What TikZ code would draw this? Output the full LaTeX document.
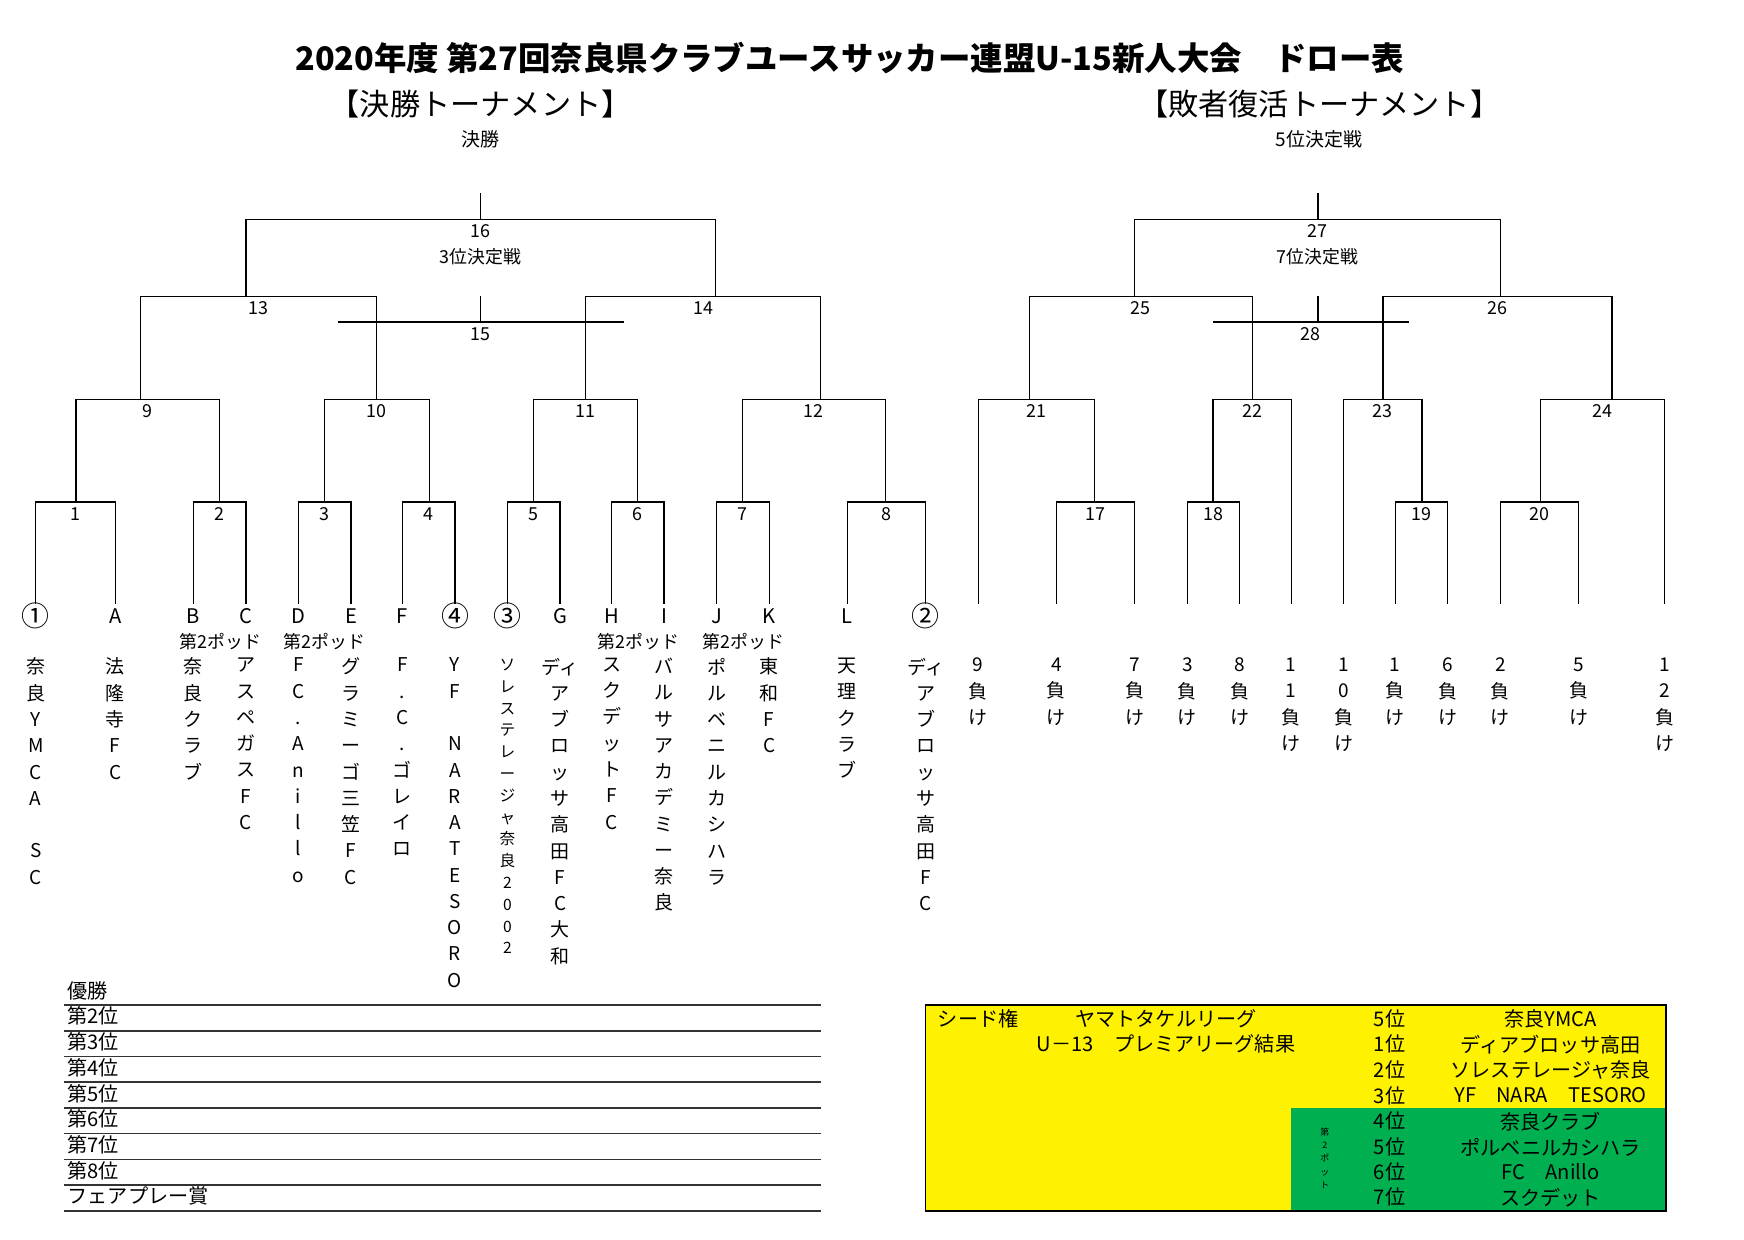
\documentclass[tikz,border=0pt]{standalone}
\usepackage{fontspec}
\setmainfont{Noto Sans CJK JP}
\usetikzlibrary{positioning}
\definecolor{potgreen}{RGB}{0,176,80}
\tikzstyle{num}=[font=\fontsize{16}{16}\selectfont, inner sep=0pt]
\tikzstyle{leaf}=[font=\fontsize{18}{18}\selectfont, inner sep=0pt]
\tikzstyle{seedleaf}=[leaf, font=\fontsize{25}{25}\selectfont]
\tikzstyle{pot}=[font=\fontsize{16}{16}\selectfont, inner sep=0pt]
\tikzstyle{vname}=[anchor=north, align=center, inner sep=0pt, font=\fontsize{17}{23.5}\selectfont]
\tikzstyle{vsmall}=[vname, font=\fontsize{14}{19.5}\selectfont]
\tikzstyle{rank}=[anchor=west, inner sep=0pt, font=\fontsize{18}{18}\selectfont]
\tikzstyle{cell}=[inner sep=0pt, font=\fontsize{18}{18}\selectfont]
% bracket: name, label, left x, right x, y, left bottom, right bottom
\newcommand\match[7]{%
  \draw (#3,#6) -- (#3,#5) -- (#4,#5) -- (#4,#7);
  \node[num] (#1) at ({(#3+#4)/2},#5+11) {#2};}
\def\leafy{540}

\begin{document}
\begin{tikzpicture}[x=1pt,y=-1pt,line width=1.1pt]
	\useasboundingbox (0,0) rectangle (1560,1109);
	% Define the titles
	\node[font=\fontsize{29}{29}\selectfont\bfseries] (title) at (760,52) {2020年度 第27回奈良県クラブユースサッカー連盟U-15新人大会　ドロー表};
	\node[font=\fontsize{27}{27}\selectfont] (main_t) at (430,93) {【決勝トーナメント】};
	\node[font=\fontsize{27}{27}\selectfont] (sub_t) at (1180,93) {【敗者復活トーナメント】};
	\node[num, font=\fontsize{17}{17}\selectfont] (final_t) at (430,125) {決勝};
	\node[num, font=\fontsize{17}{17}\selectfont] (fifth_t) at (1180,125) {5位決定戦};

	% Main tournament
	\draw (430,173) -- (430,196);
	\match{m16}{16}{220}{640}{196}{265}{265}
	\node[num, below=8pt of m16] (third_t) {3位決定戦};
	\match{m13}{13}{126}{337}{265}{357}{357}
	\match{m14}{14}{524}{734}{265}{357}{357}
	\draw (430,265) -- (430,288);
	\match{m15}{15}{302}{558}{288}{288}{288}
	\match{m9}{9}{68}{196}{357}{449}{449}
	\match{m10}{10}{290}{384}{357}{449}{449}
	\match{m11}{11}{477}{570}{357}{449}{449}
	\match{m12}{12}{664}{792}{357}{449}{449}
	\match{m1}{1}{32}{103}{449}{\leafy}{\leafy}
	\match{m2}{2}{173}{220}{449}{\leafy}{\leafy}
	\match{m3}{3}{267}{314}{449}{\leafy}{\leafy}
	\match{m4}{4}{360}{407}{449}{\leafy}{\leafy}
	\match{m5}{5}{454}{501}{449}{\leafy}{\leafy}
	\match{m6}{6}{547}{594}{449}{\leafy}{\leafy}
	\match{m7}{7}{641}{688}{449}{\leafy}{\leafy}
	\match{m8}{8}{758}{828}{449}{\leafy}{\leafy}

	% Losers tournament
	\draw (1179,173) -- (1179,196);
	\match{m27}{27}{1015}{1342}{196}{265}{265}
	\node[num, below=8pt of m27] (seventh_t) {7位決定戦};
	\match{m25}{25}{921}{1120}{265}{357}{357}
	\match{m26}{26}{1237}{1442}{265}{357}{357}
	\draw (1179,265) -- (1179,288);
	\match{m28}{28}{1085}{1260}{288}{288}{288}
	\match{m21}{21}{875}{979}{357}{\leafy}{449}
	\match{m22}{22}{1085}{1155}{357}{449}{\leafy}
	\match{m23}{23}{1202}{1272}{357}{\leafy}{449}
	\match{m24}{24}{1378}{1489}{357}{449}{\leafy}
	\match{m17}{17}{945}{1015}{449}{\leafy}{\leafy}
	\match{m18}{18}{1062}{1109}{449}{\leafy}{\leafy}
	\match{m19}{19}{1248}{1295}{449}{\leafy}{\leafy}
	\match{m20}{20}{1342}{1412}{449}{\leafy}{\leafy}

	% Define the entries
	\foreach \x/\t in {103/A,173/B,220/C,267/D,314/E,360/F,501/G,547/H,594/I,641/J,688/K,758/L}
		\node[leaf] (e\x) at (\x,551) {\t};
	\foreach \x/\t in {32/①,407/④,454/③,828/②}
		\node[seedleaf] (e\x) at (\x,551) {\t};
	\foreach \x in {197,290,571,665}
		\node[pot] (p\x) at (\x,574) {第2ポッド};
	\node[vname] (t1) at (32,588) {奈\\良\\Y\\M\\C\\A\\\strut\\S\\C};
	\node[vname] (t2) at (103,588) {法\\隆\\寺\\F\\C};
	\node[vname] (t3) at (173,588) {奈\\良\\ク\\ラ\\ブ};
	\node[vname] (t4) at (220,588) {ア\\ス\\ペ\\ガ\\ス\\F\\C};
	\node[vname] (t5) at (267,588) {F\\C\\.\\A\\n\\i\\l\\l\\o};
	\node[vname] (t6) at (314,588) {グ\\ラ\\ミ\\ー\\ゴ\\三\\笠\\F\\C};
	\node[vname] (t7) at (360,588) {F\\.\\C\\.\\ゴ\\レ\\イ\\ロ};
	\node[vname] (t8) at (407,588) {Y\\F\\\strut\\N\\A\\R\\A\\T\\E\\S\\O\\R\\O};
	\node[vsmall] (t9) at (454,589) {ソ\\レ\\ス\\テ\\レ\\ー\\ジ\\ャ\\奈\\良\\2\\0\\0\\2};
	\node[vname] (t10) at (501,588) {ディ\\ア\\ブ\\ロ\\ッ\\サ\\高\\田\\F\\C\\大\\和};
	\node[vname] (t11) at (547,588) {ス\\ク\\デ\\ッ\\ト\\F\\C};
	\node[vname] (t12) at (594,588) {バ\\ル\\サ\\ア\\カ\\デ\\ミ\\ー\\奈\\良};
	\node[vname] (t13) at (641,588) {ポ\\ル\\ベ\\ニ\\ル\\カ\\シ\\ハ\\ラ};
	\node[vname] (t14) at (688,588) {東\\和\\F\\C};
	\node[vname] (t15) at (758,588) {天\\理\\ク\\ラ\\ブ};
	\node[vname] (t16) at (828,588) {ディ\\ア\\ブ\\ロ\\ッ\\サ\\高\\田\\F\\C};
	\foreach \x/\n in {875/9,945/4,1015/7,1062/3,1109/8,1248/1,1295/6,1342/2,1412/5}
		\node[vname] (r\x) at (\x,588) {\n\\負\\け};
	\node[vname] (r1155) at (1155,588) {1\\1\\負\\け};
	\node[vname] (r1202) at (1202,588) {1\\0\\負\\け};
	\node[vname] (r1489) at (1489,588) {1\\2\\負\\け};

	% Define the result list
	\foreach \y/\t [count=\i] in {886/優勝,909/第2位,932/第3位,955/第4位,978/第5位,1001/第6位,1024/第7位,1047/第8位,1070/フェアプレー賞}
		{\node[rank] (res\i) at (60,\y) {\t};
		 \draw[line width=1.4pt, black!80] (57,\y+13) -- (734,\y+13);}

	% Define the seed box
	\fill[yellow] (828,899) rectangle (1490,1083);
	\fill[potgreen] (1155,991) rectangle (1490,1083);
	\draw[line width=1.4pt] (828,899) rectangle (1490,1083);
	\node[cell] (seed) at (875,911) {シード権};
	\node[cell] (league1) at (1043,911) {ヤマトタケルリーグ};
	\node[cell] (league2) at (1043,934) {U－13　プレミアリーグ結果};
	\node[align=center, inner sep=0pt, font=\fontsize{8}{12}\selectfont] (pot2) at (1185,1036) {第\\2\\ポ\\ッ\\ト};
	\foreach \y/\p/\t [count=\i] in {911/5/奈良YMCA,934/1/ディアブロッサ高田,957/2/ソレステレージャ奈良,980/3/YF　NARA　TESORO,1003/4/奈良クラブ,1026/5/ポルベニルカシハラ,1048/6/FC　Anillo,1071/7/スクデット}
		{\node[cell] (pl\i) at (1243,\y) {\p 位};
		 \node[cell] (tm\i) at (1387,\y) {\t};}
\end{tikzpicture}
\end{document}
